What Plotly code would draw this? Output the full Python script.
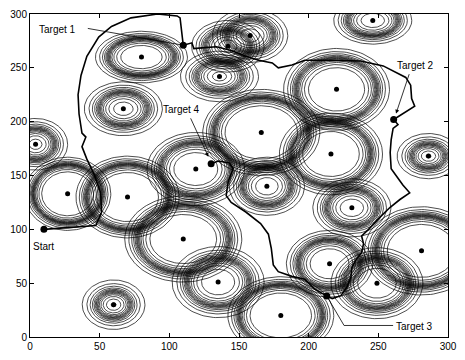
import numpy as np
import plotly.graph_objects as go

# ---- obstacle (threat) data: centre, outer radii, innermost-ring fraction ----
obs_x = [80, 67, 4, 27, 70, 60, 110, 135, 180, 119, 166, 170, 136, 142, 158, 220, 246, 216, 286, 231, 281, 215, 249]
obs_y = [260, 212, 179, 133, 130, 30, 91, 51, 20, 156, 190, 140, 242, 270, 280, 230, 294, 170, 168, 120, 80, 68, 50]
obs_rx = [33, 28, 23, 31, 37, 22.5, 42, 33, 38, 35, 42, 27, 28, 26, 27, 38, 28, 37, 22.5, 28, 41, 31, 33]
obs_ry = [24, 25, 24, 34, 38, 23, 40, 33, 36, 34, 40, 27, 23.5, 24, 25, 38, 22, 38, 21, 27, 41, 31, 33]
obs_fin = [0.45, 0.25, 0.2, 0.6, 0.6, 0.08, 0.57, 0.36, 0.58, 0.45, 0.62, 0.3, 0.18, 0.25, 0.25, 0.53, 0.3, 0.55, 0.08, 0.3, 0.6, 0.45, 0.42]

# ---- planned path: Start -> Target 1 -> Target 2 -> Target 3 -> Target 4 ----
path_x = [10, 26.1, 47.2, 51.4, 50.7, 45.8, 40.8, 37.3, 40.1, 37.3, 35.2, 34.5, 36.6, 40.8, 49.3, 58.5, 72.5, 91.5, 105.6, 107.7, 109.2, 110,
          116.2, 117.6, 125.4, 133.8, 144.4, 154.9, 164.1, 173.9, 178.2, 188, 197.2, 213.4, 237.3, 253.5, 269.7, 273.2, 273.9, 276.1, 261,
          264.1, 260.6, 259.2, 258.5, 259.2, 262.7, 267.6, 272.5, 265.5, 258.5, 251.4, 243, 238, 239.4, 238, 233.8, 231, 230.3, 227.5, 223.2, 216.9, 213,
          204.2, 197.2, 188, 178.2, 174.6, 173.2, 171.1, 165.5, 154.9, 144.4, 140.8, 142.3, 145.8, 143, 135.2, 130]
path_y = [100, 101.8, 103.6, 116.1, 133.9, 151.8, 165.2, 176.8, 185.7, 189.3, 207.1, 225, 242.9, 260.7, 278.6, 288.4, 296.4, 300, 298.2, 296.4, 278.6, 271,
          273.2, 267.9, 268.8, 269.6, 266.1, 260.7, 257.1, 254.5, 250, 252.7, 257.1, 257.1, 256.3, 251.8, 241.1, 233.9, 221.4, 214.3, 202,
          197.3, 193.8, 183, 171.4, 156.3, 150, 141.1, 133.9, 127.7, 120.5, 111.6, 100, 93.8, 86.6, 78.6, 71.4, 64.3, 55.4, 46.4, 38.4, 35.7, 38,
          44.6, 53.6, 56.3, 60.7, 67, 82.1, 95.5, 105.4, 116.1, 125, 131.3, 144.6, 156.3, 161.6, 163.4, 161]

# ---- key points ----
pt_names = ["Start", "Target 1", "Target 2", "Target 3", "Target 4"]
pt_x = [10, 110, 261, 213, 130]
pt_y = [100, 271, 202, 38, 161]

# label positions
lab_x = [9.5, 19.9, 276.4, 261.5, 108.8]
lab_y = [84, 285.7, 251.8, 9.5, 211.6]

FONT = "Liberation Sans, Arial, Helvetica, sans-serif"

# build concentric rings: dense band in the middle, sparse rings inside/outside
N_LEV = 14
u = np.linspace(1, -1, N_LEV)
b = 2.5
t = np.sinh(b * u) / np.sinh(b)
theta = np.linspace(0, 2 * np.pi, 121)
rx_all, ry_all = [], []
for cx, cy, rx, ry, fin in zip(obs_x, obs_y, obs_rx, obs_ry, obs_fin):
    m = (1 + fin) / 2
    h = (1 - fin) / 2
    for tk in t:
        f = m + h * tk
        rx_all.extend((cx + rx * f * np.cos(theta)).tolist())
        ry_all.extend((cy + ry * f * np.sin(theta)).tolist())
        rx_all.append(None)
        ry_all.append(None)

fig = go.Figure()
fig.add_trace(go.Scatter(x=rx_all, y=ry_all, mode="lines",
                         line=dict(color="black", width=0.7), hoverinfo="skip"))
fig.add_trace(go.Scatter(x=obs_x, y=obs_y, mode="markers",
                         marker=dict(color="black", size=5)))
fig.add_trace(go.Scatter(x=path_x, y=path_y, mode="lines",
                         line=dict(color="black", width=1.6)))
fig.add_trace(go.Scatter(x=pt_x, y=pt_y, mode="markers",
                         marker=dict(color="black", size=7)))

# leader lines (Target 1 and Target 3)
fig.add_trace(go.Scatter(x=[41.5, pt_x[1]], y=[286.6, pt_y[1]], mode="lines",
                         line=dict(color="black", width=0.8)))
fig.add_trace(go.Scatter(x=[pt_x[3], 225.4, 260.6], y=[pt_y[3], 10.7, 10.7], mode="lines",
                         line=dict(color="black", width=0.8)))

ann = []
for i, name in enumerate(pt_names):
    xa = "center"
    if name == "Target 3":
        xa = "left"
    ann.append(dict(x=lab_x[i], y=lab_y[i], text=name, showarrow=False,
                    xanchor=xa, yanchor="middle",
                    font=dict(family=FONT, size=10, color="black")))
# arrows (Target 2 and Target 4)
ann.append(dict(x=262.7, y=207.5, ax=272.5, ay=245.5, axref="x", ayref="y", xref="x", yref="y",
                text="", showarrow=True, arrowhead=2, arrowsize=1, arrowwidth=0.8, arrowcolor="black"))
ann.append(dict(x=128.0, y=167.5, ax=114.8, ay=204.5, axref="x", ayref="y", xref="x", yref="y",
                text="", showarrow=True, arrowhead=2, arrowsize=1, arrowwidth=0.8, arrowcolor="black"))

ticks = [0, 50, 100, 150, 200, 250, 300]
axis_common = dict(showgrid=False, zeroline=False, showline=True, linecolor="black", linewidth=1,
                   mirror="ticks", ticks="inside", ticklen=4, tickcolor="black", tickwidth=1,
                   tickvals=ticks, ticktext=[str(v) for v in ticks],
                   tickfont=dict(family=FONT, size=10, color="black"))

fig.update_layout(
    width=465, height=360,
    margin=dict(l=30, r=9, t=8, b=16),
    paper_bgcolor="white", plot_bgcolor="white",
    showlegend=False,
    annotations=ann,
    xaxis=dict(range=[0, 300], **axis_common),
    yaxis=dict(range=[0, 300], **axis_common),
)

fig.write_html("out.html")
